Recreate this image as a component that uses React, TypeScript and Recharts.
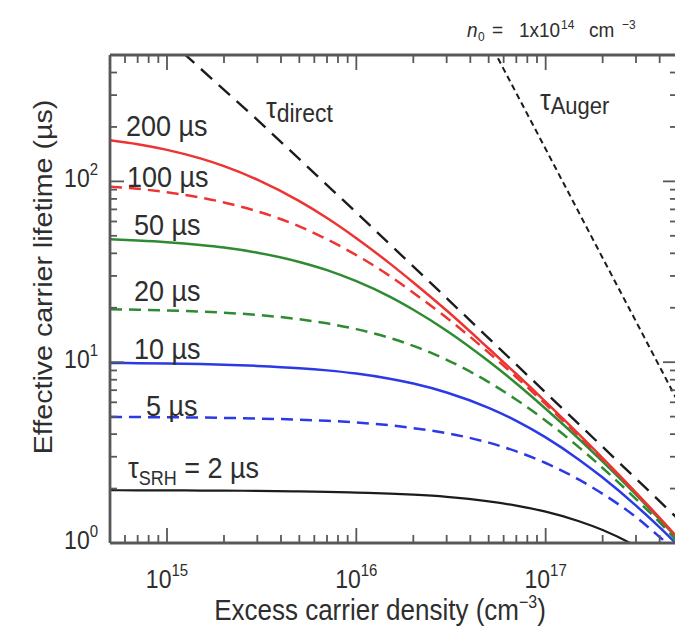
import React from 'react';
import { LineChart, Line, XAxis, YAxis } from 'recharts';

// Excess carrier density (cm^-3) sample points
const densities = [5e14, 7e14, 1e15, 1.5e15, 2e15, 3e15, 5e15, 7e15, 1e16, 1.5e16, 2e16, 3e16, 5e16, 7e16, 1e17, 1.5e17, 2e17, 3e17, 4e17, 5e17];

// Effective lifetime (µs) for each SRH lifetime
const tau200 = [168.8, 160.5, 149.4, 134, 121.4, 102.2, 77.7, 62.7, 48.5, 35.2, 27.6, 19.3, 11.9, 8.6, 6.04, 3.99, 2.95, 1.9, 1.376, 1.064];
const tau100 = [93.5, 91, 87, 81.5, 76.5, 68.3, 56.4, 47.8, 39.1, 30, 24.2, 17.6, 11.3, 8.26, 5.86, 3.91, 2.9, 1.88, 1.37, 1.06];
const tau50 = [47.8, 47.1, 46.1, 44.5, 43.05, 40.35, 35.85, 32.3, 28.05, 23.05, 19.5, 14.94, 10.12, 7.63, 5.53, 3.76, 2.82, 1.85, 1.35, 1.05];
const tau20 = [19.63, 19.52, 19.34, 19.06, 18.78, 18.25, 17.28, 16.4, 15.23, 13.62, 12.31, 10.31, 7.76, 6.2, 4.75, 3.38, 2.6, 1.75, 1.3, 1.01];
const tau10 = [9.91, 9.88, 9.83, 9.76, 9.69, 9.54, 9.27, 9.01, 8.65, 8.1, 7.62, 6.8, 5.59, 4.74, 3.84, 2.89, 2.3, 1.61, 1.22, 0.97];
const tau5 = [4.98, 4.97, 4.96, 4.94, 4.92, 4.88, 4.81, 4.74, 4.64, 4.48, 4.32, 4.05, 3.59, 3.21, 2.77, 2.24, 1.87, 1.39, 1.08, 0.88];
const tau2 = [1.96, 1.955, 1.955, 1.95, 1.948, 1.943, 1.93, 1.92, 1.9, 1.875, 1.85, 1.8, 1.7, 1.61, 1.49, 1.32, 1.18, 0.96, 0.8, 0.68];

// Limiting lifetimes
const directX = [5e14, 1e15, 3e15, 1e16, 3e16, 1e17, 3e17, 5e17];
const directTau = [1133, 618, 219, 67.3, 22.6, 6.79, 2.27, 1.36];
const augerX = [5e16, 1e17, 2e17, 3e17, 5e17];
const augerTau = [601, 151, 37.7, 16.8, 6.04];

// Axis ticks
const xTicks = [6e14, 7e14, 8e14, 9e14, 1e15, 2e15, 3e15, 4e15, 5e15, 6e15, 7e15, 8e15, 9e15, 1e16, 2e16, 3e16, 4e16, 5e16, 6e16, 7e16, 8e16, 9e16, 1e17, 2e17, 3e17, 4e17];
const yTicks = [1, 2, 3, 4, 5, 6, 7, 8, 9, 10, 20, 30, 40, 50, 60, 70, 80, 90, 100, 200, 300, 400];

const AX = '#585858';
const TXT = '#2e2e2e';
const FONT = "'Liberation Sans', Arial, sans-serif";
const SY = 1.1;
const RED = '#ee3333';
const GREEN = '#2e8b32';
const BLUE = '#2b3ae6';
const BLACK = '#1c1c1c';

function isMajor(v: number) {
  const l = Math.log10(v);
  return Math.abs(l - Math.round(l)) < 1e-6;
}
function expOf(v: number) {
  return Math.round(Math.log10(v));
}

const BottomTick = (p: any) => {
  const { x, y, payload } = p;
  const m = isMajor(payload.value);
  return (
    <g>
      <line x1={x} x2={x} y1={y} y2={y - (m ? 15 : 8)} stroke={AX} strokeWidth={1.8} />
      {m && (
        <text transform={`translate(${x},${y + 45}) scale(1,${SY})`} textAnchor="middle" fontFamily={FONT} fontSize={23} fill={TXT}>
          10<tspan fontSize={15} dy={-11}>{expOf(payload.value)}</tspan>
        </text>
      )}
    </g>
  );
};
const TopTick = (p: any) => {
  const { x, y, payload } = p;
  const m = isMajor(payload.value);
  return <line x1={x} x2={x} y1={y} y2={y + (m ? 15 : 8)} stroke={AX} strokeWidth={1.8} />;
};
const LeftTick = (p: any) => {
  const { x, y, payload } = p;
  const v = payload.value;
  const m = isMajor(v);
  return (
    <g>
      {v > 1 && <line x1={x} x2={x + (m ? 14 : 7)} y1={y} y2={y} stroke={AX} strokeWidth={1.8} />}
      {m && (
        <text transform={`translate(${x - 12},${y + 6}) scale(1,${SY})`} textAnchor="end" fontFamily={FONT} fontSize={23} fill={TXT}>
          10<tspan fontSize={15} dy={-11}>{expOf(v)}</tspan>
        </text>
      )}
    </g>
  );
};
const RightTick = (p: any) => {
  const { x, y, payload } = p;
  const v = payload.value;
  const m = isMajor(v);
  if (v <= 1) return <g />;
  return <line x1={x} x2={x - (m ? 15 : 8)} y1={y} y2={y} stroke={AX} strokeWidth={1.8} />;
};

const T = ({ x, y, size, anchor, children, rotate }: any) => (
  <text
    transform={`translate(${x},${y}) scale(1,${SY})${rotate ? ' rotate(-90)' : ''}`}
    textAnchor={anchor || 'start'}
    fontFamily={FONT}
    fontSize={size}
    fill={TXT}
    style={{ whiteSpace: 'pre' }}
  >
    {children}
  </text>
);

export default function App() {
  const rows = densities.map((x, i) => ({
    x,
    t200: tau200[i],
    t100: tau100[i],
    t50: tau50[i],
    t20: tau20[i],
    t10: tau10[i],
    t5: tau5[i],
    t2: tau2[i],
  }));
  const directData = directX.map((x, i) => ({ x, v: directTau[i] }));
  const augerData = augerX.map((x, i) => ({ x, v: augerTau[i] }));
  const axisLine = { stroke: AX, strokeWidth: 2.8 };
  const common = { type: 'monotone' as const, dot: false, isAnimationActive: false, xAxisId: 'b', yAxisId: 'l', strokeWidth: 2.5 };

  return (
    <div style={{ position: 'absolute', left: 0, top: 0, width: 675, height: 633, overflow: 'hidden', background: '#fff' }}>
      <LineChart width={690} height={633} data={rows} margin={{ top: 54, right: 0, bottom: 0, left: 0 }}>
        <XAxis xAxisId="b" orientation="bottom" dataKey="x" type="number" scale="log" domain={[5e14, 5e17]} allowDataOverflow
          ticks={xTicks} interval={0} tick={(p: any) => <BottomTick {...p} />} tickLine={false} tickSize={0} tickMargin={0}
          height={90} axisLine={axisLine} />
        <XAxis xAxisId="t" orientation="top" dataKey="x" type="number" scale="log" domain={[5e14, 5e17]} allowDataOverflow
          ticks={xTicks} interval={0} tick={(p: any) => <TopTick {...p} />} tickLine={false} tickSize={0} tickMargin={0}
          height={1} axisLine={axisLine} />
        <YAxis yAxisId="l" orientation="left" type="number" scale="log" domain={[1, 500]} allowDataOverflow
          ticks={yTicks} interval={0} tick={(p: any) => <LeftTick {...p} />} tickLine={false} tickSize={0} tickMargin={0}
          width={110} axisLine={axisLine} />
        <YAxis yAxisId="r" orientation="right" type="number" scale="log" domain={[1, 500]} allowDataOverflow
          ticks={yTicks} interval={0} tick={(p: any) => <RightTick {...p} />} tickLine={false} tickSize={0} tickMargin={0}
          width={12} axisLine={axisLine} />

        <Line data={directData} dataKey="v" type="linear" dot={false} isAnimationActive={false} xAxisId="b" yAxisId="l"
          stroke={BLACK} strokeWidth={2.4} strokeDasharray="15 9" />
        <Line data={augerData} dataKey="v" type="linear" dot={false} isAnimationActive={false} xAxisId="b" yAxisId="l"
          stroke={BLACK} strokeWidth={2} strokeDasharray="6 4" />

        <Line {...common} dataKey="t2" stroke={BLACK} strokeWidth={2.2} />
        <Line {...common} dataKey="t5" stroke={BLUE} strokeDasharray="12 7" />
        <Line {...common} dataKey="t10" stroke={BLUE} />
        <Line {...common} dataKey="t20" stroke={GREEN} strokeDasharray="12 7" />
        <Line {...common} dataKey="t50" stroke={GREEN} />
        <Line {...common} dataKey="t100" stroke={RED} strokeDasharray="12 7" />
        <Line {...common} dataKey="t200" stroke={RED} />
      </LineChart>

      <svg width={675} height={633} style={{ position: 'absolute', left: 0, top: 0, pointerEvents: 'none' }}>
        {/* top-right annotation */}
        <text transform={`translate(0,37) scale(1,${SY})`} fontFamily={FONT} fontSize={19} fill={TXT}>
          <tspan x={467} fontStyle="italic">n</tspan>
          <tspan x={478} dy={4} fontSize={12}>0</tspan>
          <tspan x={492} dy={-4}>=</tspan>
          <tspan x={519}>1x10</tspan>
          <tspan x={561} dy={-7} fontSize={12}>14</tspan>
          <tspan x={589} dy={7}>cm</tspan>
          <tspan x={622} dy={-7} fontSize={12}>−3</tspan>
        </text>

        <T x={266} y={118} size={27}>τ<tspan fontSize={23} dy={4}>direct</tspan></T>
        <T x={540} y={110} size={27}>τ<tspan fontSize={22} dy={4}>Auger</tspan></T>

        <T x={126} y={136} size={27}>200 µs</T>
        <T x={127} y={187} size={27}>100 µs</T>
        <T x={134} y={235} size={27}>50 µs</T>
        <T x={134} y={301} size={27}>20 µs</T>
        <T x={134} y={359} size={27}>10 µs</T>
        <T x={146} y={416} size={27}>5 µs</T>
        <T x={128} y={478} size={27}>τ<tspan fontSize={18} dy={6}>SRH</tspan><tspan fontSize={27} dy={-6}> = 2 µs</tspan></T>

        <T x={380} y={620} size={26} anchor="middle">Excess carrier density (cm<tspan fontSize={16} dy={-11}>−3</tspan><tspan dy={11}>)</tspan></T>
        <T x={52} y={277} size={26} anchor="middle" rotate>Effective carrier lifetime (µs)</T>
      </svg>
    </div>
  );
}
